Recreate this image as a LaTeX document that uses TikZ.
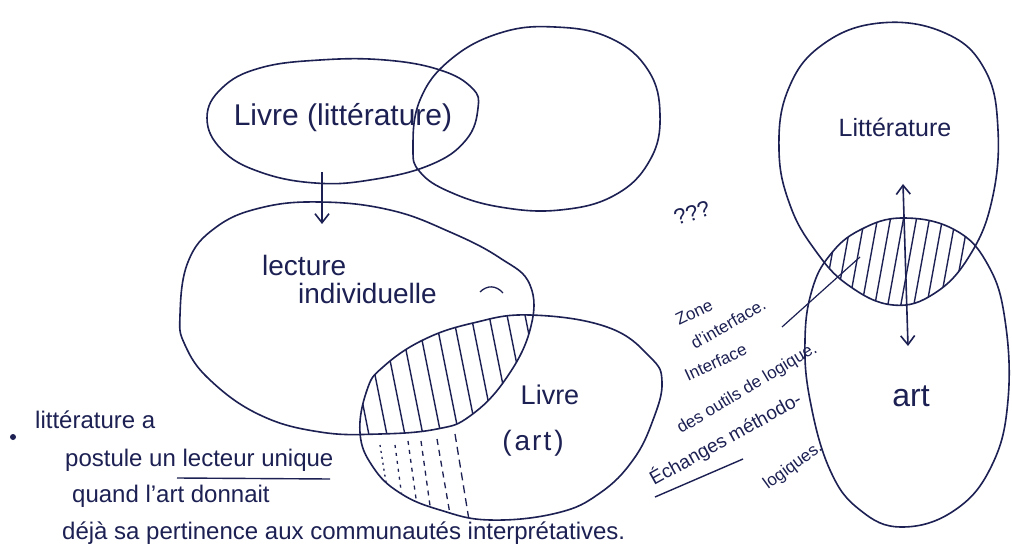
\documentclass[tikz,border=0pt]{standalone}
\usepackage{fontspec}
\setmainfont{Liberation Sans}
\usetikzlibrary{arrows.meta}
\definecolor{ink}{RGB}{28,32,82}
\newcommand\shA{plot[smooth cycle,tension=0.7] coordinates{(207,118) (222,88) (260,68) (320,60) (385,60) (440,70) (472,88) (478,108) (466,140) (430,165) (370,180) (315,183) (260,172) (222,150)}}
\newcommand\shB{plot[smooth cycle,tension=0.7] coordinates{(413,148) (420,100) (450,60) (500,33) (555,27) (610,38) (648,70) (660,115) (650,160) (615,195) (560,210) (500,207) (450,192) (420,172)}}
\newcommand\shC{plot[smooth cycle,tension=0.7] coordinates{(180,315) (188,262) (215,228) (260,208) (320,202) (390,210) (450,232) (500,258) (530,285) (530,330) (505,380) (470,416) (437,429) (380,434) (320,432) (260,415) (210,380) (185,345)}}
\newcommand\shD{plot[smooth cycle,tension=0.7] coordinates{(360,433) (367,390) (383,367) (423,340) (473,323) (530,315) (607,327) (650,357) (662,382) (653,420) (633,460) (600,493) (557,513) (490,520) (440,510) (400,493) (373,467)}}
\newcommand\shE{plot[smooth cycle,tension=0.7] coordinates{(779,150) (788,90) (822,45) (880,23) (945,33) (985,70) (998,130) (992,200) (970,255) (935,293) (893,305) (848,285) (815,250) (790,205)}}
\newcommand\shF{plot[smooth cycle,tension=0.7] coordinates{(812,290) (830,255) (860,230) (903,218) (955,230) (988,265) (1005,320) (1008,400) (992,465) (955,510) (902,527) (860,510) (830,470) (810,400) (805,340)}}
\tikzset{
  inkline/.style={draw=ink,line width=1.6pt},
  hatch/.style={draw=ink,line width=1.4pt},
  hand/.style={text=ink,inner sep=0pt},
  side/.style={hand,anchor=base west,font=\fontsize{17}{20}\selectfont},
  note/.style={hand,anchor=base west,font=\fontsize{24}{28}\selectfont},
  arr/.style={inkline,-{Straight Barb[length=9pt,width=14pt,line width=1.6pt]}},
}
\begin{document}
\begin{tikzpicture}[x=1pt,y=-1pt]
\useasboundingbox[fill=white] (0,0) rectangle (1012,556);
% hatching
\begin{scope}
  \clip \shC;
  \clip \shD;
  \foreach \x in {340,358,...,540} \draw[hatch] (\x,290) -- (\x+32,450);
\end{scope}
\begin{scope}
  \clip \shE;
  \clip \shF;
  \foreach \x in {815,828,...,1000} \draw[hatch] (\x,205) -- (\x-20,315);
\end{scope}
\begin{scope}
  \clip \shD;
  \draw[hatch,line width=1.3pt,dash pattern=on 2pt off 4pt] (380,445) -- (392,520);
  \draw[hatch,line width=1.3pt,dash pattern=on 3pt off 5pt] (395,445) -- (405,520);
  \draw[hatch,line width=1.3pt,dash pattern=on 4pt off 5pt] (408,441) -- (419,520);
  \draw[hatch,line width=1.3pt,dash pattern=on 5pt off 5pt] (421,441) -- (432,520);
  \draw[hatch,line width=1.3pt,dash pattern=on 6pt off 5pt] (437,439) -- (451,520);
  \draw[hatch,line width=1.3pt,dash pattern=on 8pt off 5pt] (455,434) -- (469,520);
\end{scope}
% outlines
\draw[inkline] \shA;
\draw[inkline] \shB;
\draw[inkline] \shC;
\draw[inkline] \shD;
\draw[inkline] \shE;
\draw[inkline] \shF;
% labels
\node[hand,font=\fontsize{30}{34}\selectfont] (livlit) at (343,118) {Livre (littérature)};
\node[hand,font=\fontsize{28}{32}\selectfont,anchor=base west] (lect) at (262,275) {lecture};
\node[hand,font=\fontsize{28}{32}\selectfont,anchor=base west] (indiv) at (298,303) {individuelle};
\node[hand,font=\fontsize{27}{32}\selectfont] (livart) at (550,395) {Livre};
\node[hand,font=\fontsize{28}{32}\selectfont] (art1) at (533,443) {(\hspace{3pt}a\hspace{2pt}r\hspace{2pt}t\hspace{3pt})};
\node[hand,font=\fontsize{25}{30}\selectfont] (litt) at (895,127) {Littérature};
\node[hand,font=\fontsize{32}{36}\selectfont] (art2) at (911,396) {art};
\node[hand,font=\fontsize{22}{26}\selectfont,rotate=18] (qq) at (692,213) {???};
% small mark
\draw[inkline,line width=1.3pt] (480,292) .. controls (487,285) and (496,285) .. (503,293);
% arrows
\coordinate (aBot) at (322,172);
\coordinate (cTop) at (322,224);
\draw[arr] (aBot) -- (cTop);
\coordinate (up) at (903,184);
\coordinate (dn) at (908,346);
\draw[inkline,{Straight Barb[length=9pt,width=14pt,line width=1.6pt]}-{Straight Barb[length=9pt,width=14pt,line width=1.6pt]}] (up) -- (dn);
% leader line
\coordinate (hz) at (860,257);
\coordinate (zi) at (782,327);
\draw[inkline,line width=1.2pt] (hz) -- (zi);
% side notes
\node[side,rotate=26] (z1) at (679,326) {Zone};
\node[side,rotate=30] (z2) at (695,350) {d'interface.};
\node[side,rotate=25] (z3) at (688,382) {Interface};
\node[side,rotate=31] (z4) at (681,434) {des outils de logique.};
\node[side,rotate=29,font=\fontsize{19}{22}\selectfont] (z5) at (654,486) {Échanges méthodo-};
\node[side,rotate=36] (z6) at (768,490) {logiques.};
\draw[inkline,line width=1.4pt] (655,497) -- (743,459);
% left notes
\fill[ink] (13,437) circle (3pt);
\node[note] (n1) at (35,428) {littérature a};
\node[note] (n2) at (65,466) {postule un lecteur unique};
\draw[inkline,line width=1.4pt] (177,478) -- (330,479);
\node[note] (n3) at (72,502) {quand l'art donnait};
\node[note] (n4) at (62,539) {déjà sa pertinence aux communautés interprétatives.};
\end{tikzpicture}
\end{document}
